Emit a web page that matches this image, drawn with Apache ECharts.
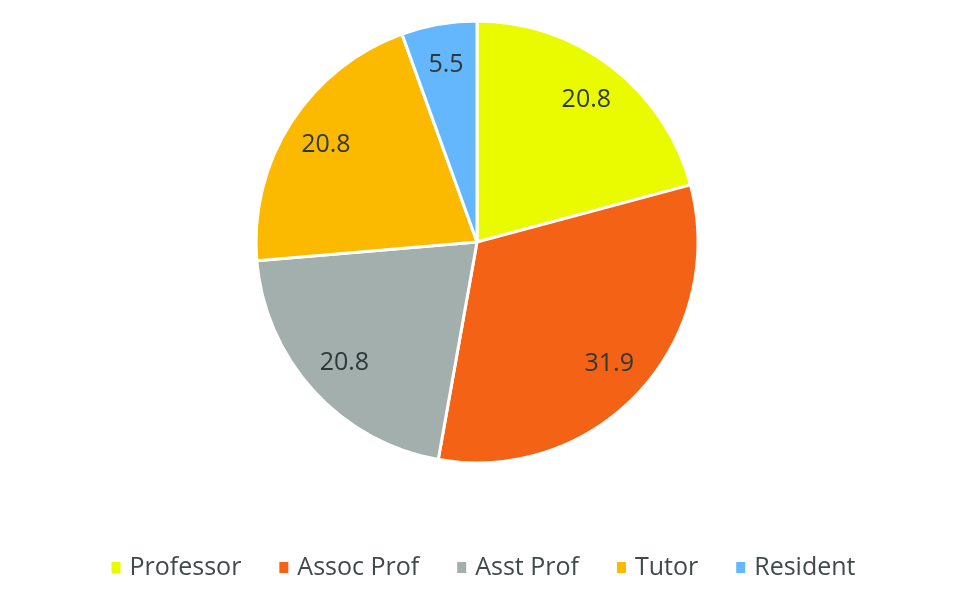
<!DOCTYPE html>
<html><head><meta charset="utf-8">
<script src="https://cdn.jsdelivr.net/npm/echarts@6/dist/echarts.min.js"></script>
<style>html,body{margin:0;padding:0;background:#fff}#c{width:965px;height:599px}</style>
</head><body><div id="c"></div>
<script>
var categories = ['Professor', 'Assoc Prof', 'Asst Prof', 'Tutor', 'Resident'];
var values = [20.8, 31.9, 20.8, 20.8, 5.5];
var colors = ['#EAFB00', '#F46215', '#A3AFAC', '#FBB900', '#65B7FD'];

var data = categories.map(function (n, i) { return { name: n, value: values[i] }; });
var chart = echarts.init(document.getElementById('c'));
var font = '"Open Sans", sans-serif';
chart.setOption({
  animation: false,
  color: colors,
  legend: {
    data: categories,
    top: 550,
    left: 'center',
    icon: 'rect',
    itemWidth: 11,
    itemHeight: 13,
    itemGap: 36,
    textStyle: { fontFamily: font, fontSize: 25, color: '#404A4A', padding: [0, 0, 0, 3] }
  },
  series: [{
    type: 'pie',
    center: [477, 242],
    radius: [0, 221],
    startAngle: 90,
    clockwise: true,
    data: data,
    itemStyle: { borderColor: '#fff', borderWidth: 3 },
    label: { show: false },
    labelLine: { show: false },
    emphasis: { disabled: true }
  }, {
    type: 'pie',
    center: [477, 242],
    radius: [132, 221],
    startAngle: 90,
    clockwise: true,
    data: data,
    silent: true,
    itemStyle: { color: 'transparent', borderWidth: 0 },
    label: {
      show: true, position: 'inside',
      formatter: function (p) { return p.value.toFixed(1); },
      fontFamily: font, fontSize: 25, color: '#2F3838'
    },
    labelLine: { show: false },
    emphasis: { disabled: true }
  }]
});
</script></body></html>
